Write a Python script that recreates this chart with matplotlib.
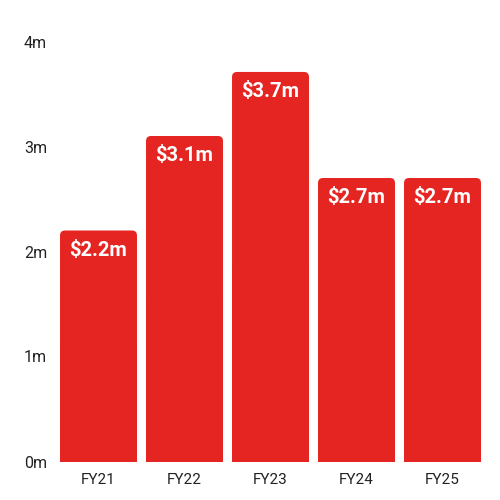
import matplotlib.pyplot as plt
from matplotlib.patches import FancyBboxPatch, Rectangle

plt.rcParams['font.family'] = ['Roboto', 'DejaVu Sans']

years = ['FY21', 'FY22', 'FY23', 'FY24', 'FY25']
revenue = [2.2, 3.1, 3.71, 2.7, 2.7]
labels = ['$2.2m', '$3.1m', '$3.7m', '$2.7m', '$2.7m']
yticks = [0, 1, 2, 3, 4]
ytick_labels = ['0m', '1m', '2m', '3m', '4m']

red = '#E52521'

fig = plt.figure(figsize=(5, 5), dpi=100)
ax = fig.add_axes([0.111, 0.077, 0.86, 0.84])
ax.set_xlim(-0.5, 4.5)
ax.set_ylim(0, 4)

width = 0.895
r = 0.058  # corner radius in x units
for i, v in enumerate(revenue):
    x0 = i - width / 2
    ax.add_patch(FancyBboxPatch((x0, 0), width, v,
                                boxstyle=f"round,pad=0,rounding_size={r}",
                                mutation_aspect=0.82, fc=red, ec='none'))
    ax.add_patch(Rectangle((x0, 0), width, v / 2, fc=red, ec='none'))
    ax.text(i, v - 0.19, labels[i], ha='center', va='center', color='white',
            fontsize=14.5, fontweight='bold')

ax.set_xticks(range(len(years)))
ax.set_xticklabels(years, fontsize=11, color='#222222')
ax.set_yticks(yticks)
ax.set_yticklabels(ytick_labels, fontsize=11.5, color='#222222')
ax.tick_params(length=0)
ax.tick_params(axis='x', pad=8)
ax.tick_params(axis='y', pad=6)
for s in ax.spines.values():
    s.set_visible(False)

fig.savefig('out.png', dpi=100)
